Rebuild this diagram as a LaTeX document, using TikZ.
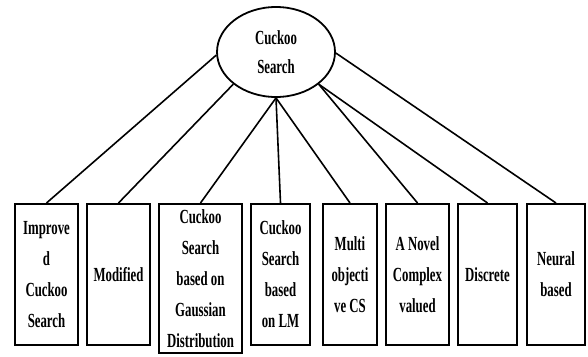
\documentclass[tikz,border=0pt]{standalone}
\usepackage{fontspec}
\setmainfont{Liberation Serif}[FakeStretch=0.64]
\usetikzlibrary{shapes.geometric}
\tikzset{
  box/.style={draw, line width=2pt, rectangle, inner sep=0pt, align=center,
    font=\bfseries\fontsize{20}{31}\selectfont},
  root/.style={draw, line width=1.8pt, ellipse, inner sep=0pt, align=center,
    minimum width=118pt, minimum height=90pt,
    font=\bfseries\fontsize{20}{29}\selectfont},
  link/.style={line width=1.6pt}
}
\begin{document}
\begin{tikzpicture}[x=1pt,y=-1pt]
\useasboundingbox (0,0) rectangle (588,356);
\node[root] (e) at (276,52) {Cuckoo\\Search};
\node[box, minimum width=63pt, minimum height=141pt] (b1) at (46.5,274.5) {Improve\\d\\Cuckoo\\Search};
\node[box, minimum width=63pt, minimum height=141pt] (b2) at (118.5,274.5) {Modified};
\node[box, minimum width=83pt, minimum height=149pt] (b3) at (200.5,278.5) {Cuckoo\\Search\\based on\\Gaussian\\Distribution};
\node[box, minimum width=59pt, minimum height=141pt] (b4) at (280.5,274.5) {Cuckoo\\Search\\based\\on LM};
\node[box, minimum width=54pt, minimum height=141pt] (b5) at (350,274.5) {Multi\\objecti\\ve CS};
\node[box, minimum width=63pt, minimum height=141pt] (b6) at (417.5,274.5) {A Novel\\Complex\\valued};
\node[box, minimum width=59pt, minimum height=141pt] (b7) at (487.5,274.5) {Discrete};
\node[box, minimum width=58pt, minimum height=141pt] (b8) at (556,274.5) {Neural\\based};
\draw[link] (e.183) -- (b1.north);
\draw[link] (e.217) -- (b2.north);
\draw[link] (e.270) -- (b3.north);
\draw[link] (e.270) -- (b4.north);
\draw[link] (e.270) -- (b5.north);
\draw[link] (e.323) -- (b6.north);
\draw[link] (e.323) -- (b7.north);
\draw[link] (e.359) -- (b8.north);
\end{tikzpicture}
\end{document}
